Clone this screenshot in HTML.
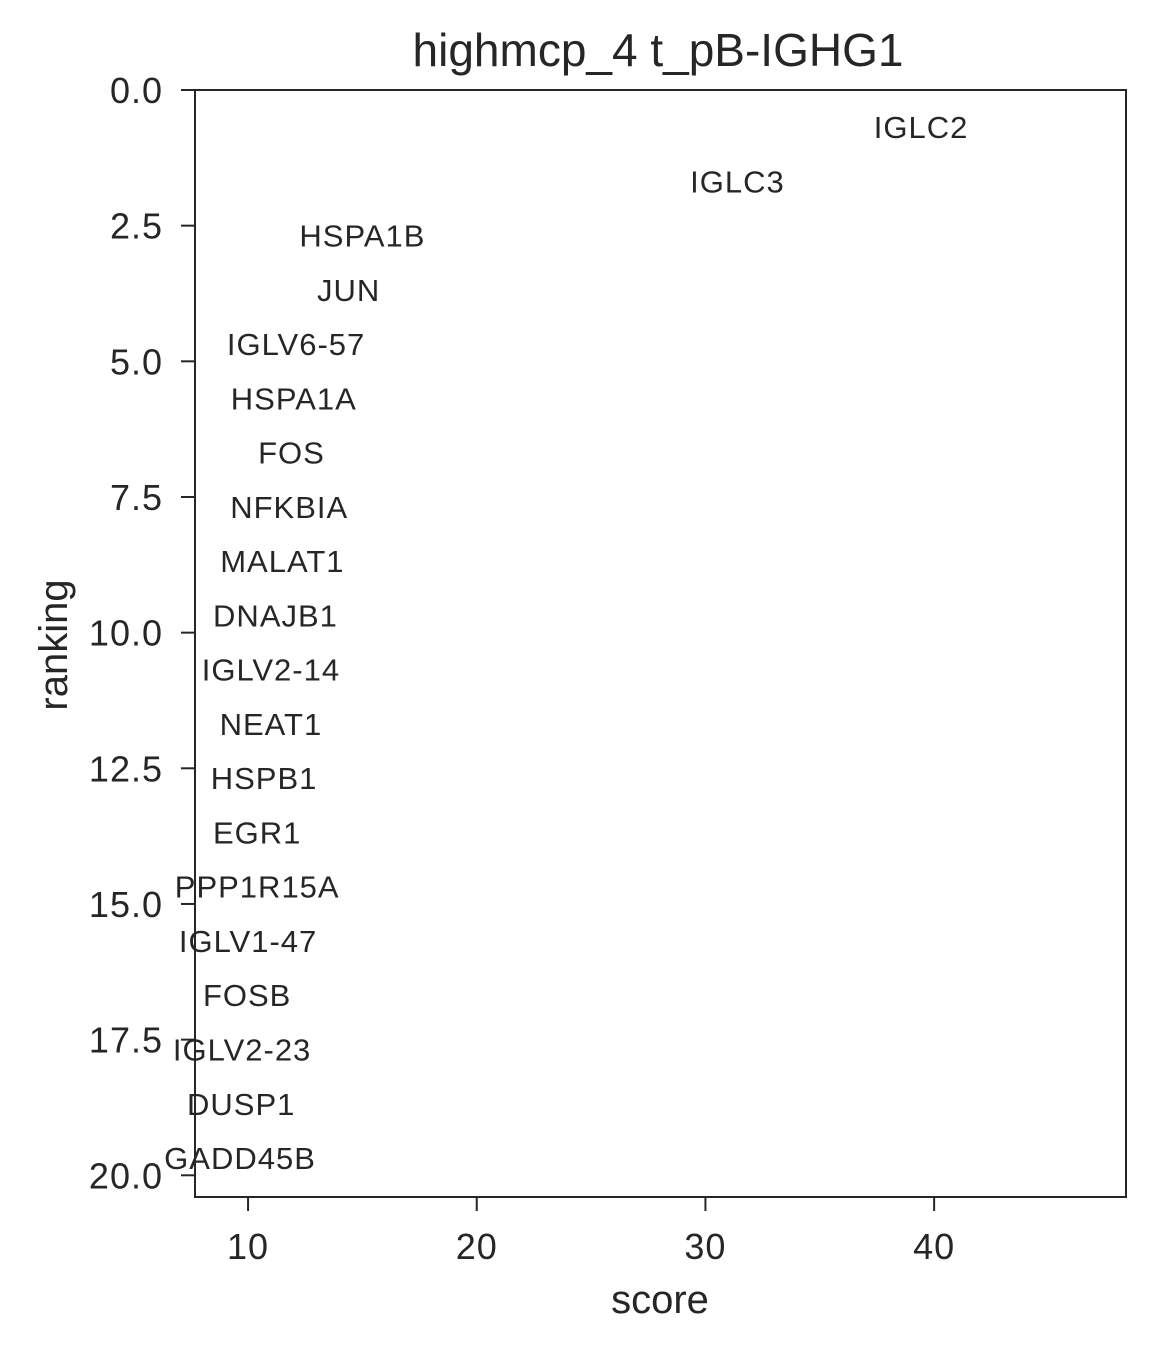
<!DOCTYPE html>
<html><head><meta charset="utf-8"><style>
body{margin:0;background:#fff;}
svg text{font-family:"Liberation Sans",Arial,sans-serif;fill:#262626;}
</style></head><body>
<svg id="chart" width="1154" height="1352" xmlns="http://www.w3.org/2000/svg">
<text x="658" y="66" font-size="46" text-anchor="middle">highmcp_4 t_pB-IGHG1</text>
<g id="axes"></g>
<g id="marks"></g>
<rect x="195" y="90" width="931" height="1107" fill="none" stroke="#262626" stroke-width="2"/>
<text x="660" y="1313" font-size="40" text-anchor="middle">score</text>
<text transform="translate(67,645) rotate(-90)" font-size="40" text-anchor="middle">ranking</text>
</svg>
<script>
const genes=["IGLC2","IGLC3","HSPA1B","JUN","IGLV6-57","HSPA1A","FOS","NFKBIA","MALAT1","DNAJB1","IGLV2-14","NEAT1","HSPB1","EGR1","PPP1R15A","IGLV1-47","FOSB","IGLV2-23","DUSP1","GADD45B"];
const scores=[39.43,31.4,15.0,14.4,12.1,12.0,11.9,11.8,11.5,11.2,11.0,11.0,10.7,10.4,10.4,10.0,9.96,9.74,9.7,9.65];
const xTicks=[10,20,30,40];
const yTicks=[0,2.5,5,7.5,10,12.5,15,17.5,20];
const xDom=[7.68,48.39], yDom=[0,20.4];
const L=195,R=1126,T=90,B=1197;
const sx=v=>L+(v-xDom[0])/(xDom[1]-xDom[0])*(R-L);
const sy=v=>T+(v-yDom[0])/(yDom[1]-yDom[0])*(B-T);
const NS="http://www.w3.org/2000/svg";
const ax=document.getElementById('axes'), mk=document.getElementById('marks');
function mkEl(tag,attrs,parent){const e=document.createElementNS(NS,tag);for(const k in attrs)e.setAttribute(k,attrs[k]);parent.appendChild(e);return e;}
xTicks.forEach(t=>{
 const l=mkEl('line',{x1:sx(t),x2:sx(t),y1:B,y2:B+14,stroke:'#262626','stroke-width':2},ax);
 
 
 const tx=mkEl('text',{x:sx(t),y:B+62,'font-size':36,'letter-spacing':1,'text-anchor':'middle'},ax);
 tx.textContent=String(t);
 
 
});
yTicks.forEach(t=>{
 const l=mkEl('line',{x1:L-14,x2:L,y1:sy(t),y2:sy(t),stroke:'#262626','stroke-width':2},ax);
 
 
 const tx=mkEl('text',{x:L-32,y:sy(t)+13,'font-size':36,'letter-spacing':1,'text-anchor':'end'},ax);
 tx.textContent=t.toFixed(1);
 
 
});
genes.forEach((g,i)=>{
 const tx=mkEl('text',{x:sx(scores[i]),y:sy(i+0.7)+10,'font-size':31,'letter-spacing':1,'text-anchor':'middle'},mk);
 tx.textContent=g;
 
 
});
</script>
</body></html>
